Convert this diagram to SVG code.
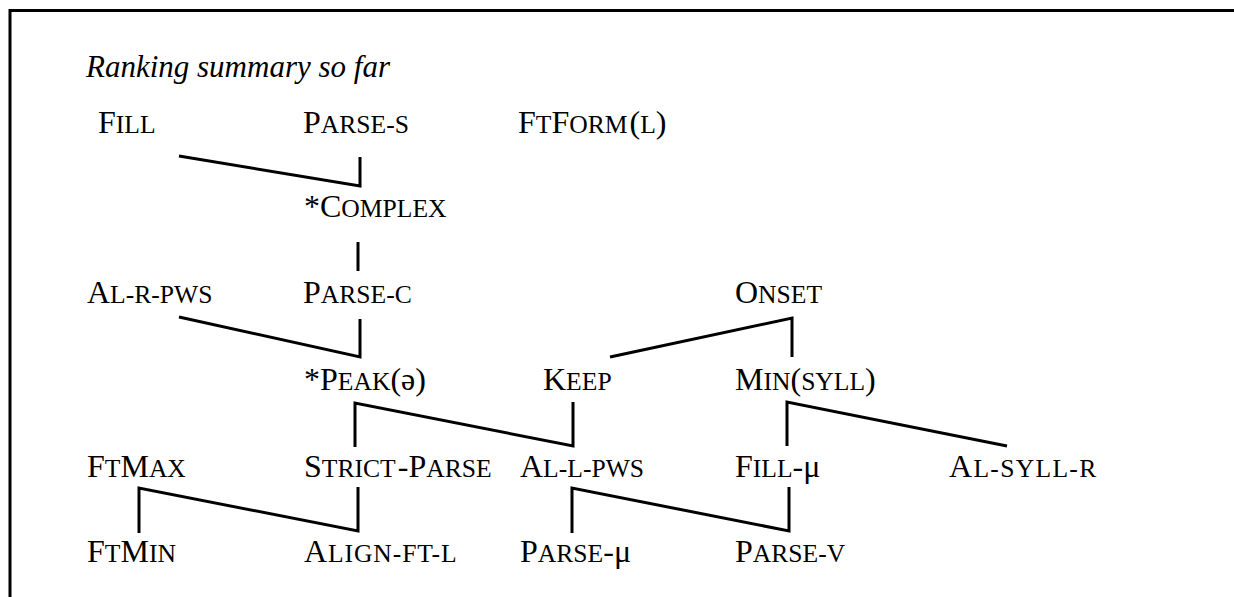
<svg xmlns="http://www.w3.org/2000/svg" width="1234" height="597" viewBox="0 0 1234 597">
<style>
text{font-family:"Liberation Serif","Times New Roman",serif;font-size:32px;fill:#000}
.sc{font-size:25.6px}
.title{font-style:italic;font-size:31px}
.c{fill:none;stroke:#000;stroke-width:3}
</style>
<rect width="1234" height="597" fill="#fff"/>
<path class="c" d="M10,597 V10.5 H1234" stroke-width="3.5"/>
<text class="title" x="86" y="77">Ranking summary so far</text>
<g id="fill"><text x="98" y="133">F<tspan class="sc">ILL</tspan></text></g>
<g id="parse-s"><text x="303" y="133">P<tspan class="sc">ARSE-S</tspan></text></g>
<g id="ftform"><text x="518" y="133">F<tspan class="sc">T</tspan>F<tspan class="sc">ORM</tspan><tspan dx="2">(</tspan><tspan class="sc">L</tspan>)</text></g>
<g id="complex"><text x="304" y="217">*C<tspan class="sc">OMPLEX</tspan></text></g>
<g id="al-r-pws"><text x="87" y="303">A<tspan class="sc">L-R-PWS</tspan></text></g>
<g id="parse-c"><text x="303" y="303">P<tspan class="sc">ARSE-C</tspan></text></g>
<g id="onset"><text x="735" y="303">O<tspan class="sc">NSET</tspan></text></g>
<g id="peak"><text x="304" y="390">*P<tspan class="sc">EAK</tspan>(ə)</text></g>
<g id="keep"><text x="543" y="390">K<tspan class="sc">EEP</tspan></text></g>
<g id="min-syll"><text x="735" y="390">M<tspan class="sc">IN</tspan>(<tspan class="sc">SYLL</tspan>)</text></g>
<g id="ftmax"><text x="87" y="477">F<tspan class="sc">T</tspan>M<tspan class="sc">AX</tspan></text></g>
<g id="strict-parse"><text x="304" y="477">S<tspan class="sc">TRICT</tspan><tspan dx="2">-</tspan>P<tspan class="sc">ARSE</tspan></text></g>
<g id="al-l-pws"><text x="520" y="477">A<tspan class="sc">L-L-PWS</tspan></text></g>
<g id="fill-mu"><text x="735" y="477">F<tspan class="sc">ILL</tspan>-μ</text></g>
<g id="al-syll-r"><text x="949" y="477" letter-spacing="1.3">A<tspan class="sc">L-SYLL-R</tspan></text></g>
<g id="ftmin"><text x="87" y="562">F<tspan class="sc">T</tspan>M<tspan class="sc">IN</tspan></text></g>
<g id="align-ft-l"><text x="304" y="562" letter-spacing="0.9">A<tspan class="sc">LIGN-FT-L</tspan></text></g>
<g id="parse-mu"><text x="520" y="562">P<tspan class="sc">ARSE</tspan>-μ</text></g>
<g id="parse-v"><text x="735" y="562">P<tspan class="sc">ARSE-V</tspan></text></g>
<g id="connectors">
<polyline class="c" points="179,156 360,186 360,157"/>
<line class="c" x1="358" y1="242" x2="358" y2="271"/>
<polyline class="c" points="179,317 360,357 360,319"/>
<polyline class="c" points="610,357 792,318 792,357"/>
<polyline class="c" points="355,447 355,403 573,446 573,402"/>
<polyline class="c" points="787,446 787,402 1007,446"/>
<polyline class="c" points="139,533 139,488 358,531 358,487"/>
<polyline class="c" points="572,533 572,488 789,531 789,487"/>
</g>
</svg>
